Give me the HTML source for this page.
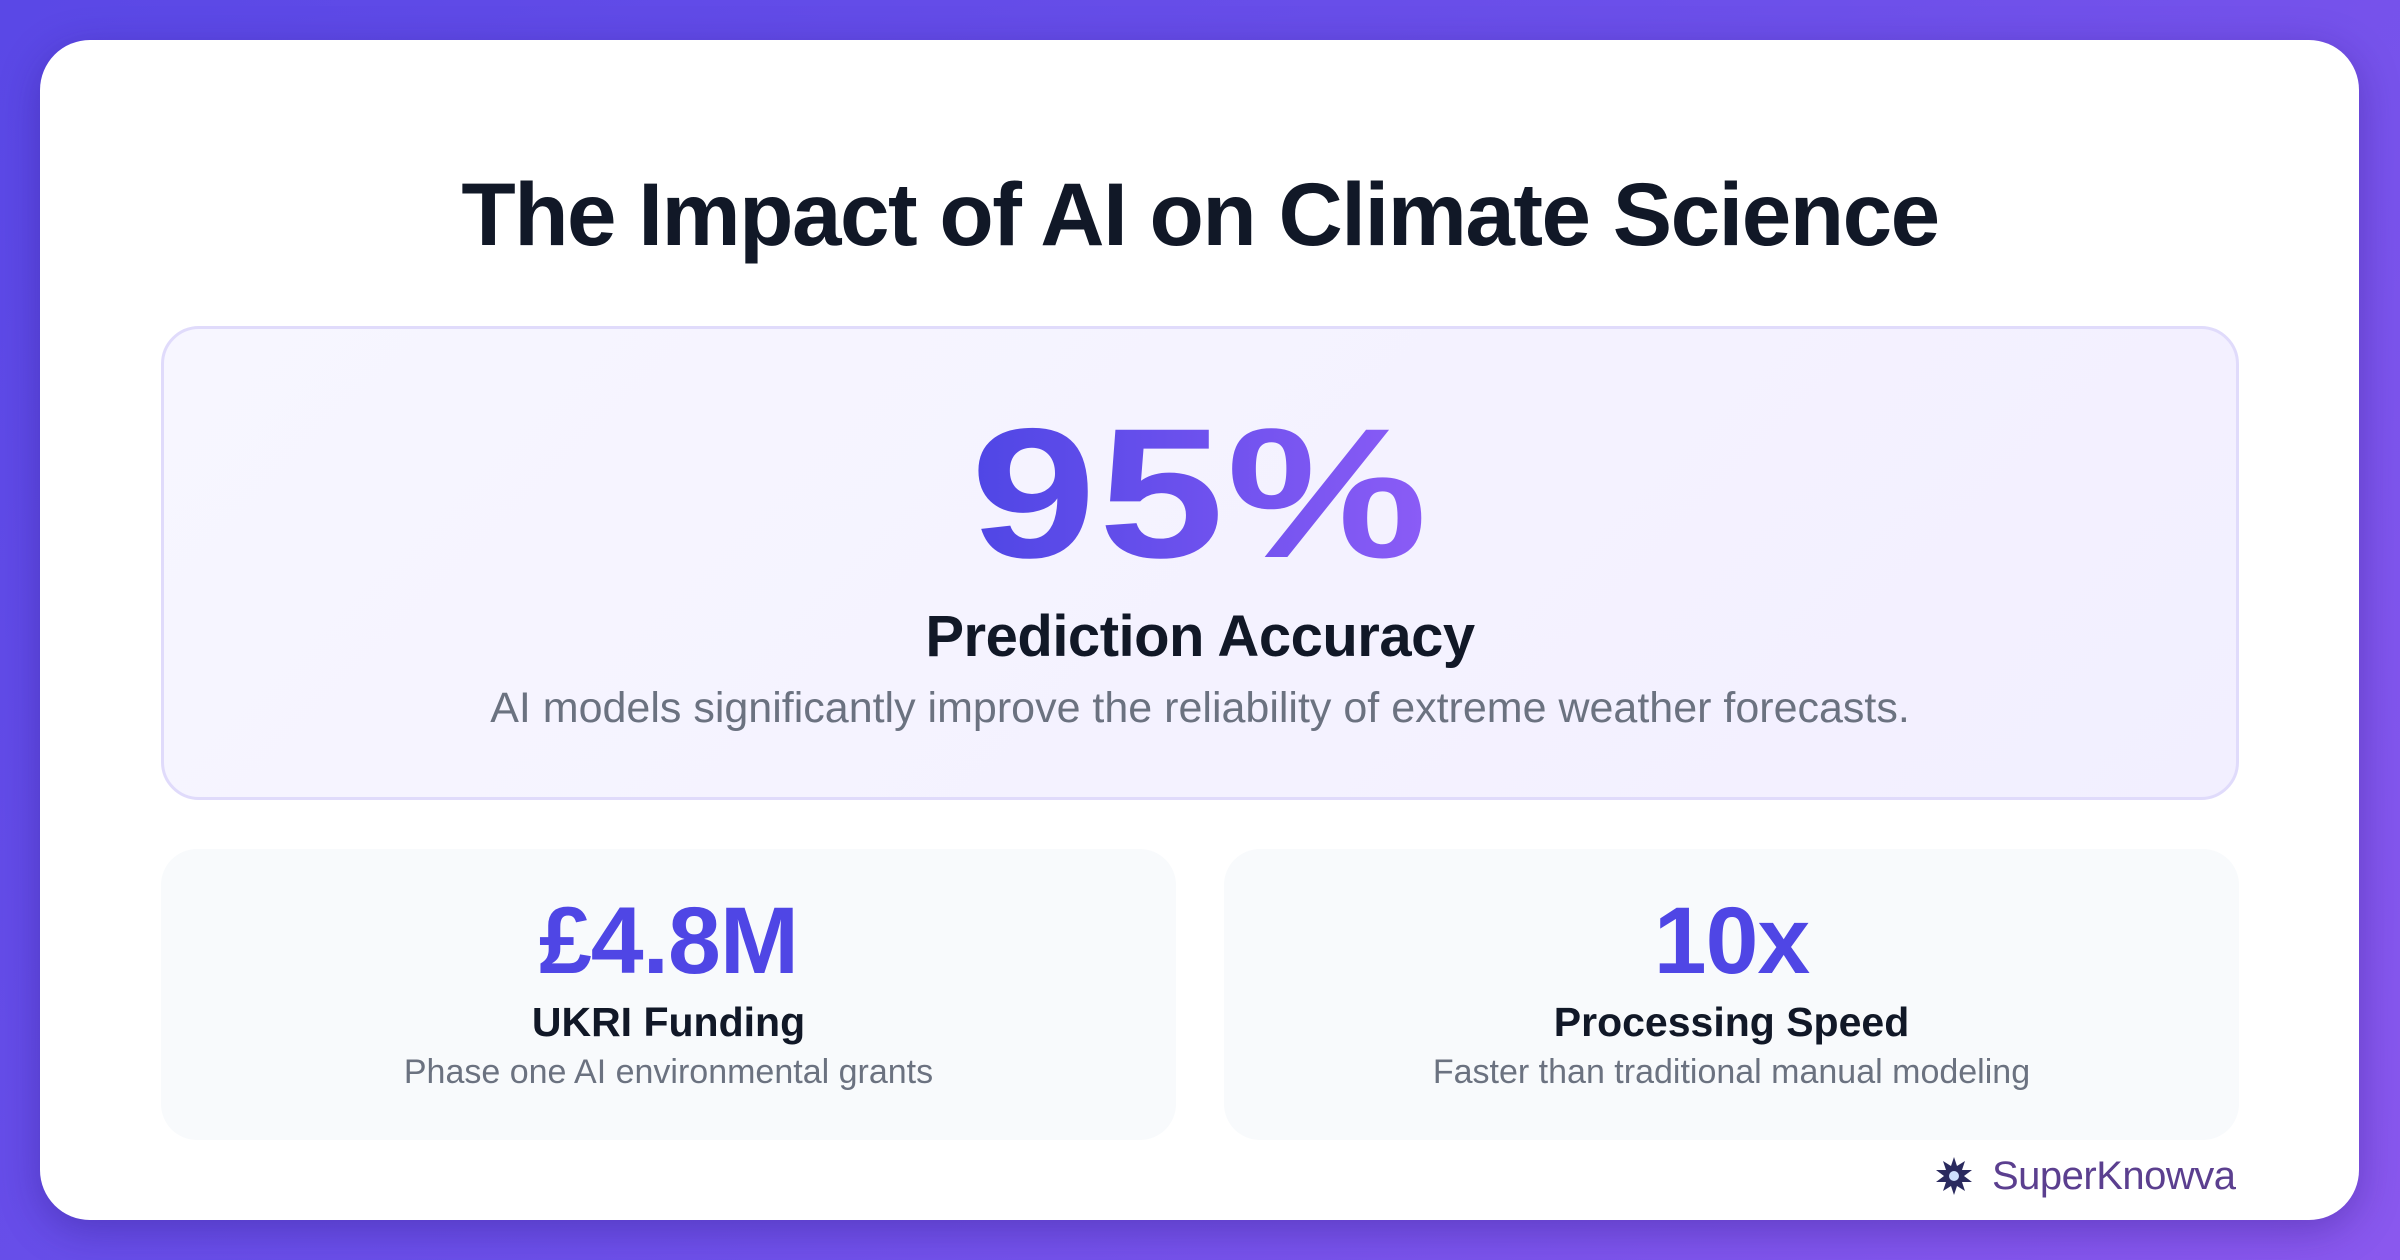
<!DOCTYPE html>
<html><head><meta charset="utf-8"><style>
*{margin:0;padding:0;box-sizing:border-box}
html,body{width:2400px;height:1260px;overflow:hidden}
body{background:linear-gradient(135deg,#5a48e6 0%,#6d50ea 50%,#8a58ee 100%);font-family:"Liberation Sans",sans-serif;position:relative}
.card{position:absolute;left:40px;top:40px;width:2319px;height:1180px;background:#fff;border-radius:50px;box-shadow:0 10px 40px rgba(40,20,120,.35)}
.t{position:absolute;left:0;width:2400px;text-align:center}
.title{top:163px;font-size:89px;font-weight:700;color:#111827;letter-spacing:-1.5px}
.hero{position:absolute;left:161px;top:326px;width:2078px;height:474px;background:linear-gradient(135deg,#f7f6ff,#f2efff);border:3px solid #e0dbfb;border-radius:38px}
.bigw{top:402px;line-height:1}
.big{display:inline-block;font-size:185px;font-weight:900;letter-spacing:2px;transform:scaleX(1.22);background:linear-gradient(90deg,#4f46e5,#8b5cf6);-webkit-background-clip:text;background-clip:text;color:transparent;line-height:1}
.h2{top:603px;font-size:58px;font-weight:700;color:#111827;letter-spacing:-0.5px}
.desc{top:684px;font-size:43px;color:#6b7280}
.sc{position:absolute;top:849px;width:1015px;height:291px;background:#f8fafc;border-radius:36px}
.sv{position:absolute;width:1015px;text-align:center;left:0}
.n{top:40px;font-size:95px;font-weight:700;color:#4f46e5;letter-spacing:-1px;line-height:1.1}
.l{top:150px;font-size:41px;font-weight:700;color:#111827}
.s{top:204px;font-size:34px;color:#6b7280}
.logo{position:absolute;left:1992px;top:1154px;font-size:40px;color:#5b3f8f;letter-spacing:-0.5px}
.ic{position:absolute;left:1934px;top:1156px;width:40px;height:40px}
</style></head><body>
<div class="card"></div>
<div class="t title">The Impact of AI on Climate Science</div>
<div class="hero"></div>
<div class="t bigw"><span class="big">95%</span></div>
<div class="t h2">Prediction Accuracy</div>
<div class="t desc">AI models significantly improve the reliability of extreme weather forecasts.</div>
<div class="sc" style="left:161px"><div class="sv n">£4.8M</div><div class="sv l">UKRI Funding</div><div class="sv s">Phase one AI environmental grants</div></div>
<div class="sc" style="left:1224px"><div class="sv n">10x</div><div class="sv l">Processing Speed</div><div class="sv s">Faster than traditional manual modeling</div></div>
<svg class="ic" viewBox="0 0 40 40"><polygon points="20,1 23,10 31,5 28,14 38,14 30,20 38,26 28,26 31,35 23,30 20,39 17,30 9,35 12,26 2,26 10,20 2,14 12,14 9,5 17,10" fill="#2a2a5e"/><circle cx="20" cy="20" r="5" fill="#cfe0ff"/></svg>
<div class="logo">SuperKnowva</div>
</body></html>
